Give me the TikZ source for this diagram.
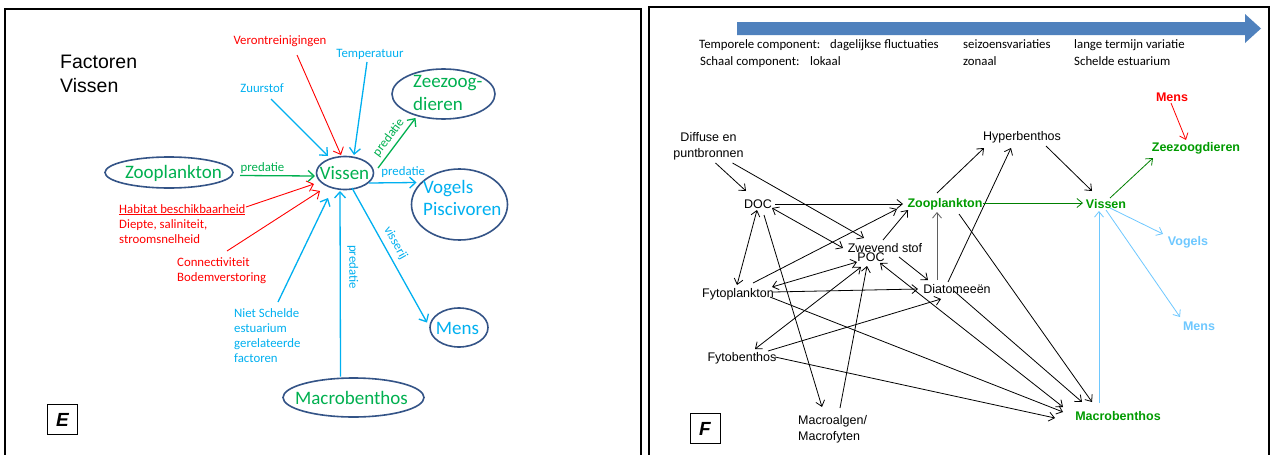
\documentclass[tikz,border=0pt]{standalone}
\usepackage{fontspec}
\setmainfont{Carlito}
\newfontfamily\arial{Liberation Sans}
\usetikzlibrary{arrows.meta,shapes.geometric}

\definecolor{offgreen}{RGB}{0,176,80}
\definecolor{offblue}{RGB}{0,176,240}
\definecolor{offred}{RGB}{255,0,0}
\definecolor{ovalline}{RGB}{52,84,135}
\definecolor{webgreen}{RGB}{0,155,0}
\definecolor{webgreenline}{RGB}{0,128,0}
\definecolor{skyblue}{RGB}{110,200,255}
\definecolor{barblue}{RGB}{79,129,189}
\definecolor{midgray}{RGB}{95,95,95}

\tikzset{
  panelframe/.style={draw=black, line width=1.2pt},
  oval/.style={ellipse, draw=ovalline, line width=1.6pt, inner sep=0pt},
  bigtxt/.style={font=\fontsize{19}{22.5}\selectfont, inner sep=0pt},
  smalltxt/.style={font=\fontsize{12.8}{15.3}\selectfont, inner sep=0pt},
  plaintxt/.style={font=\arial\fontsize{12.5}{16}\selectfont, inner sep=0pt},
  boldtxt/.style={font=\arial\bfseries\fontsize{12.5}{16}\selectfont, inner sep=0pt},
  tagbox/.style={draw, line width=1pt, minimum size=30pt, inner sep=0pt,
    font=\arial\bfseries\itshape\fontsize{19}{19}\selectfont},
  leftarr/.style={-{Straight Barb[length=6pt,width=11pt]}, line width=1.3pt},
  flow/.style={-{Straight Barb[length=5.5pt,width=9pt]}, line width=0.8pt},
  flowboth/.style={{Straight Barb[length=5.5pt,width=9pt]}-{Straight Barb[length=5.5pt,width=9pt]}, line width=0.8pt},
}

\begin{document}
\begin{tikzpicture}[x=1pt,y=-1pt]
\useasboundingbox (0,0) rectangle (1272,455);
\fill[white] (0,0) rectangle (1272,455);

% ---------- panel frames ----------
\draw[panelframe] (5,470) -- (5,9) -- (641,9) -- (641,470);
\draw[panelframe] (649,470) -- (649,7) -- (1269,7) -- (1269,470);

% ================= panel E : factors acting on fish =================
\node[font=\arial\fontsize{19.5}{24}\selectfont, inner sep=0pt, align=left, anchor=north west] (title) at (60,55) {Factoren\\Vissen};

\node[oval, minimum width=128pt, minimum height=31pt] (zooE) at (169,172.5) {};
\node[oval, minimum width=57pt, minimum height=33pt] (visE) at (345,173) {};
\node[oval, minimum width=103pt, minimum height=50pt] (zeeE) at (443.5,94) {};
\node[oval, minimum width=96pt, minimum height=71pt] (vogE) at (459.5,204.5) {};
\node[oval, minimum width=58pt, minimum height=39pt] (mensE) at (459,327.5) {};
\node[oval, minimum width=141pt, minimum height=39pt] (macE) at (353.5,397.5) {};

\node[bigtxt, text=offgreen] (zooT) at (173.5,173) {Zooplankton};
\node[bigtxt, text=offgreen] (visT) at (344.5,173) {Vissen};
\node[bigtxt, text=offgreen, align=left, anchor=north west] (zeeT) at (413,75.5) {Zeezoog-\\dieren};
\node[bigtxt, text=offblue, align=left, anchor=north west] (vogT) at (423,180) {Vogels\\Piscivoren};
\node[bigtxt, text=offblue] (mensT) at (457.5,328) {Mens};
\node[bigtxt, text=offgreen] (macT) at (351.5,398) {Macrobenthos};

\node[smalltxt, text=offred] (verT) at (280,41) {Verontreinigingen};
\node[smalltxt, text=offblue] (tempT) at (370,54) {Temperatuur};
\node[smalltxt, text=offblue] (zuurT) at (262,88) {Zuurstof};
\node[smalltxt, text=offred, align=left, anchor=north west] (habT) at (119,204)
  {\underline{Habitat beschikbaarheid}\\Diepte, saliniteit,\\stroomsnelheid};
\node[smalltxt, text=offred, align=left, anchor=north west] (conT) at (177,257)
  {Connectiviteit\\Bodemverstoring};
\node[smalltxt, text=offblue, align=left, anchor=north west] (nietT) at (234,308)
  {Niet Schelde\\estuarium\\gerelateerde\\factoren};

\node[tagbox] (tagE) at (62.5,419.5) {E};

% factors pointing at the fish
\draw[leftarr, offblue] ([shift={(9,11)}]zuurT.center) -- ([shift={(-17,-17)}]visE.center);
\draw[leftarr, offred, line width=0.9pt] ([shift={(17,14)}]verT.center) -- ([shift={(-4,-18)}]visE.center);
\draw[leftarr, offblue] ([shift={(-3,8)}]tempT.center) -- ([shift={(9,-18)}]visE.center);
\draw[leftarr, offblue] ([shift={(44,-6)}]nietT.north west) -- ([shift={(-17,25)}]visE.center);
\draw[leftarr, offred, line width=0.9pt] ([shift={(127,3)}]habT.north west) -- ([shift={(-31,11)}]visE.center);
\draw[leftarr, offred, line width=0.9pt] ([shift={(50,-6)}]conT.north west) -- ([shift={(-25,18)}]visE.center);

% trophic links
\draw[leftarr, offgreen] ([shift={(71,3)}]zooE.center) --
  node[pos=0.3, above=1pt, smalltxt] (labA) {predatie} ([shift={(-30,3)}]visE.center);
\draw[leftarr, offgreen] ([shift={(33,-5)}]visE.center) --
  node[pos=0.49, sloped, above=3.5pt, smalltxt] (labB) {predatie} ([shift={(-28,24)}]zeeE.center);
\draw[leftarr, offblue] ([shift={(24,10)}]visE.center) --
  node[pos=0.72, above=4pt, smalltxt] (labC) {predatie} ([shift={(-43,-22)}]vogE.center);
\draw[leftarr, offblue] ([shift={(7,15)}]visE.center) --
  node[pos=0.45, sloped, above=5pt, smalltxt] (labD) {visserij} ([shift={(-32,-5)}]mensE.center);
\draw[leftarr, offblue] ([shift={(-13,-21)}]macE.center) --
  node[pos=0.59, sloped, above=6.5pt, smalltxt] (labE) {predatie} ([shift={(-5,18)}]visE.center);

% ================= panel F : food web along scales =================
\fill[barblue] (737,22) -- (1245,22) -- (1245,14) -- (1261,28.5) -- (1245,43) -- (1245,35) -- (737,35) -- cycle;

\node[smalltxt, anchor=base west] (tcomp) at (699,48.5) {Temporele component:};
\node[smalltxt, anchor=base west] (tdag) at (830,48.5) {dagelijkse fluctuaties};
\node[smalltxt, anchor=base west] (tsei) at (963,48.5) {seizoensvariaties};
\node[smalltxt, anchor=base west] (tlan) at (1074,48.5) {lange termijn variatie};
\node[smalltxt, anchor=base west] (scomp) at (700,65.5) {Schaal component:};
\node[smalltxt, anchor=base west] (slok) at (810,65.5) {lokaal};
\node[smalltxt, anchor=base west] (szon) at (963,65.5) {zonaal};
\node[smalltxt, anchor=base west] (ssch) at (1074,65.5) {Schelde estuarium};

\node[plaintxt, align=center] (diff) at (708.5,146) {Diffuse en\\puntbronnen};
\node[plaintxt] (doc) at (758,204) {DOC};
\node[boldtxt, text=webgreen] (zoo) at (945,204) {Zooplankton};
\node[boldtxt, text=webgreen] (vis) at (1106,204) {Vissen};
\node[plaintxt] (hyp) at (1022,137) {Hyperbenthos};
\node[boldtxt, text=offred] (mensR) at (1172,97) {Mens};
\node[boldtxt, text=webgreen] (zee) at (1196,148) {Zeezoogdieren};
\node[boldtxt, text=skyblue] (vog) at (1188,242) {Vogels};
\node[boldtxt, text=skyblue] (mensB) at (1199,326) {Mens};
\node[plaintxt] (zwev) at (885,248) {Zwevend stof};
\node[plaintxt] (poc) at (871,257) {POC};
\node[plaintxt] (dia) at (957,289) {Diatomeeën};
\node[plaintxt] (fytp) at (738,294) {Fytoplankton};
\node[plaintxt] (fytb) at (742,358) {Fytobenthos};
\node[plaintxt, align=left, anchor=west] (malg) at (798,429.7) {Macroalgen/\\Macrofyten};
\node[boldtxt, text=webgreen] (macb) at (1118,416) {Macrobenthos};
\node[tagbox] (tagF) at (705,428.5) {F};

\draw[flow] ([shift={(7,17)}]diff.center) -- ([shift={(-12,-13)}]doc.center);
\draw[flow] ([shift={(24,17)}]diff.center) -- ([shift={(-21,-10)}]zwev.center);
\draw[flow] ([shift={(17,0)}]doc.center) -- ([shift={(-42,0)}]zoo.center);
\draw[flowboth] ([shift={(14,4)}]doc.center) -- ([shift={(-42,0)}]zwev.center);
\draw[flowboth] ([shift={(-1,6)}]doc.center) -- ([shift={(-1,-9)}]fytp.center);
\draw[flow] ([shift={(6,11)}]doc.center) -- ([shift={(24,-22.7)}]malg.west);
\draw[flow] ([shift={(15,-11)}]fytp.center) -- ([shift={(-48,5)}]zoo.center);
\draw[flow] ([shift={(-2,-8)}]zwev.center) -- ([shift={(-37,6)}]zoo.center);
\draw[flowboth] ([shift={(-14,5)}]poc.center) -- ([shift={(34,-7)}]fytp.center);
\draw[flow] ([shift={(35,-2)}]fytp.center) -- ([shift={(-39,0)}]dia.center);
\draw[flow] ([shift={(14,9)}]zwev.center) -- ([shift={(-29,-9)}]dia.center);
\draw[flow, draw=midgray] ([shift={(-20,-9)}]dia.center) -- ([shift={(-8,8)}]zoo.center);
\draw[flow] ([shift={(-9,-7)}]dia.center) -- ([shift={(-11,11)}]hyp.center);
\draw[flow] ([shift={(-8,-11)}]zoo.center) -- ([shift={(-38,11)}]hyp.center);
\draw[flow] ([shift={(24,9)}]hyp.center) -- ([shift={(-14,-13)}]vis.center);
\draw[flow, webgreenline] ([shift={(38,-1)}]zoo.center) -- ([shift={(-23,-1)}]vis.center);
\draw[flow, webgreenline] ([shift={(4,-6)}]vis.center) -- ([shift={(-43,10)}]zee.center);
\draw[flow, offred] ([shift={(-1,6)}]mensR.center) -- ([shift={(-10,-8)}]zee.center);
\draw[flow, skyblue] ([shift={(4,4)}]vis.center) -- ([shift={(-25,-8)}]vog.center);
\draw[flow, skyblue] ([shift={(0,6)}]vis.center) -- ([shift={(-19,-9)}]mensB.center);
\draw[flow, skyblue] ([shift={(-19,-13)}]macb.center) -- ([shift={(-7,7)}]vis.center);
\draw[flow] ([shift={(14,10)}]zoo.center) -- ([shift={(-26,-14)}]macb.center);
\draw[flow] ([shift={(-3,2)}]dia.center) -- ([shift={(-36,-14)}]macb.center);
\draw[flowboth] ([shift={(9,6)}]poc.center) -- ([shift={(-55,-9)}]macb.center);
\draw[flow] ([shift={(32,3)}]fytp.center) -- ([shift={(-55,-4)}]macb.center);
\draw[flow] ([shift={(33,-1)}]fytb.center) -- ([shift={(-63,2)}]macb.center);
\draw[flow] ([shift={(26,-7)}]fytb.center) -- ([shift={(-16,10)}]dia.center);
\draw[flowboth] ([shift={(-10,10)}]poc.center) -- ([shift={(13,-9)}]fytb.center);
\draw[flow] ([shift={(42,-21.7)}]malg.west) -- ([shift={(-4,9)}]poc.center);
\end{tikzpicture}
\end{document}
